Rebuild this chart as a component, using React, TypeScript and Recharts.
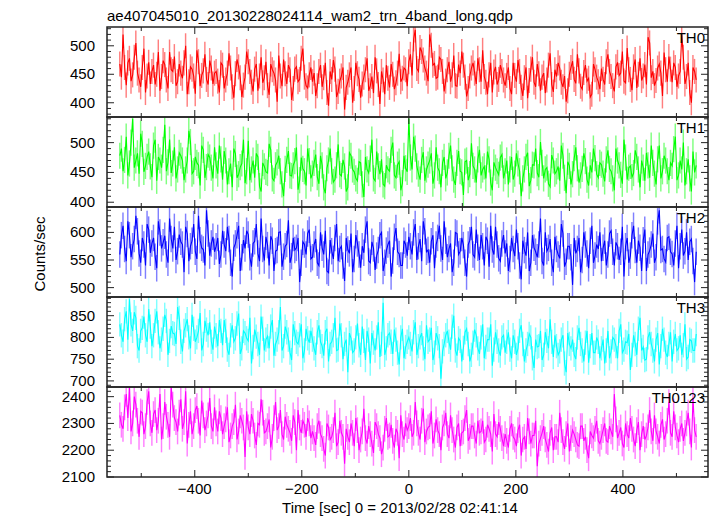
import { ComposedChart, Line, Bar, XAxis, YAxis } from 'recharts';

const FONT = '"Liberation Sans", Arial, Helvetica, sans-serif';

// light curve bins, 3 s apart, from -540 s to +537 s
const times = Array.from({ length: 360 }, (_, i) => -540 + 3 * i);

const th0 = [
  468, 445, 520, 462, 431, 470, 478, 438, 449, 480, 505, 452, 440, 428, 462, 495, 418, 447, 471, 433, 455, 466, 432, 450, 489, 421, 446, 474, 467, 440, 425, 489, 458, 455, 481, 430, 437, 468, 452, 443, 470, 500, 415, 437, 463, 459, 447, 416, 492, 472, 429, 448, 456, 485, 441, 432, 474, 461, 433, 452,
  455, 438, 418, 470, 466, 425, 440, 452, 487, 461, 428, 409, 451, 476, 463, 444, 410, 431, 445, 490, 472, 455, 436, 420, 459, 468, 421, 447, 480, 435, 444, 472, 430, 414, 468, 458, 452, 440, 402, 483, 447, 429, 476, 451, 433, 466, 458, 405, 425, 459, 463, 437, 441, 478, 495, 445, 430, 426, 449, 462,
  437, 452, 412, 430, 455, 466, 428, 444, 470, 418, 395, 455, 441, 475, 459, 410, 420, 438, 447, 462, 388, 427, 436, 449, 462, 400, 425, 470, 451, 441, 409, 433, 445, 458, 478, 421, 430, 446, 417, 480, 456, 432, 398, 455, 440, 415, 466, 443, 427, 468, 450, 424, 435, 452, 486, 437, 443, 461, 458, 429,
  472, 485, 448, 512, 528, 460, 455, 497, 490, 475, 461, 452, 438, 520, 501, 466, 469, 443, 445, 480, 476, 455, 420, 438, 458, 472, 437, 449, 483, 430, 429, 467, 452, 490, 466, 445, 411, 425, 447, 461, 470, 452, 433, 478, 458, 437, 492, 446, 436, 415, 449, 470, 418, 454, 463, 432, 441, 466, 455, 440,
  430, 448, 462, 425, 415, 470, 448, 437, 475, 455, 427, 412, 444, 462, 408, 439, 459, 480, 436, 428, 468, 451, 421, 445, 452, 417, 440, 466, 487, 432, 419, 458, 446, 470, 461, 436, 428, 447, 402, 421, 450, 462, 473, 441, 434, 485, 456, 429, 424, 453, 466, 438, 443, 410, 415, 468, 458, 445, 437, 424,
  460, 441, 432, 472, 485, 455, 446, 430, 420, 463, 471, 448, 452, 490, 438, 435, 496, 458, 441, 422, 463, 476, 426, 450, 478, 439, 447, 467, 432, 515, 505, 444, 455, 430, 439, 461, 468, 452, 412, 488, 458, 437, 481, 459, 436, 470, 462, 428, 447, 455, 520, 480, 433, 446, 470, 418, 400, 462, 455, 440,
];

const th1 = [
  478, 490, 452, 471, 510, 445, 465, 500, 540, 458, 470, 482, 448, 515, 498, 451, 461, 476, 485, 460, 442, 495, 505, 436, 476, 470, 458, 488, 530, 452, 467, 505, 449, 465, 492, 440, 455, 483, 478, 470, 437, 455, 470, 520, 501, 448, 452, 476, 466, 462, 428, 495, 488, 441, 459, 480, 475, 458, 440, 492,
  462, 448, 495, 472, 438, 486, 470, 430, 452, 465, 425, 490, 481, 441, 447, 459, 465, 505, 432, 452, 503, 437, 455, 470, 441, 482, 476, 427, 418, 466, 460, 451, 449, 498, 488, 440, 436, 462, 467, 478, 452, 430, 410, 456, 471, 486, 445, 444, 462, 469, 492, 421, 437, 475, 456, 452, 428, 490, 469, 440,
  448, 466, 480, 442, 431, 478, 462, 425, 415, 457, 470, 490, 452, 434, 438, 462, 497, 447, 444, 471, 460, 418, 425, 483, 478, 455, 451, 440, 436, 468, 466, 430, 409, 476, 455, 449, 473, 505, 440, 436, 485, 460, 447, 472, 430, 427, 462, 455, 452, 488, 500, 445, 441, 463, 468, 420, 432, 478, 457, 451,
  540, 475, 455, 510, 490, 460, 448, 438, 471, 484, 436, 455, 463, 470, 482, 431, 445, 492, 458, 452, 425, 466, 476, 440, 450, 478, 495, 457, 438, 429, 466, 486, 452, 450, 412, 468, 470, 437, 447, 499, 461, 455, 433, 472, 488, 445, 455, 460, 440, 485, 472, 433, 420, 467, 458, 452, 446, 475, 480, 440,
  452, 470, 430, 455, 476, 438, 448, 482, 465, 452, 410, 440, 455, 476, 483, 427, 437, 463, 462, 490, 449, 442, 501, 466, 440, 455, 458, 431, 426, 479, 470, 448, 452, 460, 436, 495, 478, 441, 415, 468, 461, 430, 447, 474, 492, 457, 433, 445, 456, 482, 469, 438, 428, 462, 450, 490, 474, 447, 441, 466,
  463, 448, 435, 472, 487, 456, 452, 440, 420, 490, 470, 462, 446, 431, 505, 475, 438, 458, 461, 442, 449, 487, 476, 455, 425, 470, 458, 436, 483, 462, 441, 495, 466, 448, 430, 472, 495, 440, 452, 478, 470, 452, 437, 466, 461, 489, 510, 437, 445, 470, 455, 500, 428, 452, 472, 440, 418, 485, 450, 462,
];

const th2 = [
  560, 595, 612, 570, 548, 620, 595, 555, 575, 588, 630, 602, 562, 545, 590, 578, 540, 615, 605, 563, 580, 590, 556, 535, 620, 600, 571, 582, 594, 560, 545, 625, 588, 571, 610, 550, 566, 596, 583, 578, 528, 610, 597, 548, 575, 585, 615, 565, 552, 630, 586, 572, 569, 540, 640, 598, 558, 580, 592, 565,
  575, 590, 543, 560, 603, 578, 566, 610, 588, 545, 520, 572, 580, 595, 612, 530, 555, 586, 571, 603, 596, 555, 538, 580, 584, 615, 562, 548, 625, 570, 549, 592, 577, 540, 593, 585, 530, 566, 568, 600, 601, 538, 556, 575, 579, 622, 545, 557, 590, 568, 572, 590, 510, 545, 583, 578, 560, 598, 605, 552,
  555, 578, 588, 545, 540, 600, 572, 560, 603, 530, 527, 586, 566, 552, 590, 615, 548, 570, 575, 540, 512, 590, 569, 562, 598, 528, 552, 595, 580, 560, 536, 575, 563, 605, 620, 548, 545, 583, 571, 532, 558, 568, 595, 600, 530, 545, 567, 578, 585, 520, 549, 592, 608, 565, 561, 540, 540, 585, 578, 558,
  592, 575, 560, 600, 615, 550, 575, 588, 548, 620, 602, 565, 568, 545, 584, 595, 535, 578, 590, 612, 571, 550, 620, 585, 555, 570, 580, 528, 545, 600, 598, 560, 566, 590, 577, 545, 520, 578, 586, 610, 560, 555, 605, 572, 550, 595, 575, 540, 592, 585, 538, 612, 569, 560, 610, 578, 553, 548, 580, 595,
  562, 580, 530, 552, 590, 570, 557, 605, 575, 540, 515, 585, 568, 558, 600, 530, 545, 595, 572, 565, 555, 578, 625, 548, 540, 600, 566, 572, 588, 545, 528, 592, 570, 560, 553, 615, 598, 538, 547, 575, 575, 555, 505, 590, 562, 570, 590, 528, 550, 600, 578, 562, 535, 585, 612, 545, 558, 578, 570, 600,
  548, 572, 585, 540, 560, 598, 603, 565, 540, 582, 575, 550, 565, 610, 520, 575, 590, 545, 558, 595, 612, 568, 545, 585, 572, 530, 586, 605, 530, 560, 567, 578, 598, 545, 555, 620, 640, 568, 570, 552, 546, 590, 592, 565, 561, 540, 580, 612, 535, 575, 605, 558, 566, 600, 550, 583, 588, 548, 510, 565,
];

const th3 = [
  830, 805, 790, 842, 860, 795, 888, 830, 815, 858, 845, 780, 770, 815, 822, 848, 805, 790, 865, 825, 780, 805, 838, 860, 812, 775, 795, 820, 852, 838, 760, 792, 826, 810, 808, 785, 870, 845, 790, 768, 815, 828, 842, 800, 775, 852, 820, 790, 800, 815, 856, 770, 785, 838, 818, 805, 835, 790, 772, 825,
  805, 780, 840, 815, 782, 840, 815, 772, 760, 805, 828, 790, 798, 832, 855, 762, 775, 815, 810, 798, 792, 845, 740, 778, 818, 802, 785, 760, 848, 820, 770, 795, 803, 775, 825, 840, 758, 785, 795, 812, 870, 770, 780, 825, 812, 795, 765, 748, 830, 810, 790, 785, 805, 830, 752, 770, 820, 798, 788, 815,
  795, 775, 760, 812, 828, 790, 780, 758, 812, 820, 745, 785, 790, 805, 845, 770, 772, 832, 805, 750, 785, 795, 720, 810, 798, 765, 770, 800, 832, 782, 760, 825, 792, 748, 815, 795, 740, 810, 788, 770, 800, 835, 755, 785, 880, 760, 775, 805, 810, 790, 762, 818, 795, 765, 738, 800, 820, 752, 778, 790,
  800, 785, 768, 812, 835, 760, 780, 800, 810, 775, 750, 828, 790, 795, 822, 748, 765, 810, 798, 780, 705, 768, 785, 805, 815, 790, 772, 825, 850, 770, 758, 798, 792, 745, 776, 812, 820, 785, 745, 760, 788, 818, 805, 775, 762, 800, 830, 752, 778, 795, 795, 830, 735, 772, 812, 790, 770, 758, 800, 805,
  765, 790, 812, 772, 752, 805, 790, 760, 775, 815, 828, 785, 745, 770, 785, 808, 800, 752, 730, 795, 778, 780, 815, 748, 760, 812, 792, 775, 842, 790, 755, 805, 780, 760, 768, 795, 805, 740, 720, 810, 785, 775, 795, 760, 750, 800, 822, 785, 770, 745, 788, 815, 742, 780, 810, 765, 765, 800, 790, 752,
  775, 795, 740, 770, 815, 752, 768, 800, 795, 780, 752, 815, 830, 765, 772, 790, 788, 808, 725, 760, 805, 785, 760, 820, 845, 770, 778, 748, 750, 800, 812, 785, 770, 745, 795, 810, 738, 780, 820, 795, 765, 755, 785, 812, 745, 790, 808, 770, 775, 805, 760, 782, 830, 750, 755, 795, 792, 770, 770, 808,
];

const th0123 = [
  2330, 2295, 2280, 2360, 2410, 2320, 2436, 2270, 2300, 2400, 2370, 2310, 2250, 2345, 2340, 2260, 2290, 2380, 2420, 2300, 2265, 2335, 2350, 2275, 2310, 2410, 2240, 2290, 2380, 2325, 2295, 2250, 2436, 2370, 2320, 2305, 2270, 2340, 2390, 2280, 2305, 2420, 2225, 2295, 2345, 2260, 2290, 2350, 2365, 2310, 2255, 2385, 2330, 2275, 2300, 2330, 2395, 2290, 2270, 2360,
  2300, 2270, 2345, 2320, 2260, 2290, 2315, 2360, 2230, 2255, 2290, 2305, 2370, 2240, 2270, 2330, 2310, 2285, 2175, 2345, 2285, 2260, 2335, 2310, 2255, 2220, 2300, 2295, 2390, 2340, 2265, 2270, 2290, 2315, 2210, 2250, 2320, 2380, 2275, 2290, 2350, 2260, 2240, 2325, 2295, 2280, 2265, 2235, 2330, 2305, 2200, 2350, 2285, 2265, 2310, 2295, 2250, 2320, 2300, 2245,
  2270, 2245, 2220, 2290, 2310, 2260, 2245, 2205, 2180, 2300, 2285, 2240, 2250, 2275, 2340, 2215, 2230, 2310, 2265, 2250, 2150, 2280, 2250, 2230, 2300, 2265, 2215, 2320, 2275, 2200, 2240, 2270, 2355, 2245, 2225, 2290, 2260, 2225, 2190, 2305, 2290, 2260, 2245, 2185, 2210, 2280, 2320, 2250, 2255, 2295, 2235, 2210, 2280, 2265, 2170, 2330, 2260, 2240, 2300, 2275,
  2290, 2320, 2250, 2265, 2380, 2300, 2265, 2240, 2310, 2355, 2230, 2270, 2285, 2290, 2345, 2225, 2255, 2315, 2275, 2260, 2200, 2285, 2300, 2340, 2260, 2245, 2330, 2275, 2240, 2210, 2285, 2300, 2215, 2265, 2270, 2320, 2350, 2235, 2250, 2290, 2290, 2255, 2225, 2310, 2265, 2270, 2310, 2230, 2240, 2295, 2280, 2260, 2195, 2335, 2260, 2250, 2305, 2280, 2245, 2215,
  2260, 2235, 2210, 2280, 2300, 2250, 2240, 2215, 2275, 2295, 2180, 2240, 2250, 2205, 2320, 2270, 2225, 2255, 2255, 2310, 2140, 2225, 2245, 2265, 2290, 2240, 2220, 2195, 2265, 2285, 2200, 2250, 2250, 2230, 2340, 2275, 2230, 2205, 2260, 2300, 2195, 2245, 2275, 2260, 2240, 2220, 2215, 2290, 2290, 2235, 2250, 2200, 2170, 2270, 2255, 2245, 2280, 2310, 2235, 2225,
  2250, 2275, 2300, 2235, 2230, 2290, 2270, 2250, 2410, 2315, 2245, 2265, 2285, 2225, 2210, 2300, 2260, 2245, 2320, 2280, 2240, 2215, 2275, 2305, 2200, 2260, 2290, 2240, 2255, 2285, 2350, 2270, 2235, 2330, 2270, 2250, 2225, 2295, 2315, 2240, 2260, 2310, 2380, 2265, 2250, 2345, 2285, 2255, 2230, 2280, 2300, 2235, 2265, 2300, 2340, 2270, 2210, 2395, 2275, 2250,
];

const series = [th0, th1, th2, th3, th0123];
const names = ['TH0', 'TH1', 'TH2', 'TH3', 'TH0123'];
const colors = ['#ff0000', '#00ff00', '#0000ff', '#00ffff', '#ff00ff'];
const errors = [22, 22, 24, 28, 48];
const yDomains = [[375, 533], [392, 543], [483, 646], [686, 893], [2100, 2436]];
const yMajor = [[400, 450, 500], [400, 450, 500], [500, 550, 600], [700, 750, 800, 850], [2100, 2200, 2300, 2400]];
const yMinorStep = [10, 10, 10, 10, 20];

const xDomain = [-564, 559];
const xMajor = [-400, -200, 0, 200, 400];
const xTicks = [-500, -400, -300, -200, -100, 0, 100, 200, 300, 400, 500];

const PANEL_TOP = 27;
const PANEL_H = 90;
const PAD = 12;
const LEFT = 107;
const RIGHT = 708;
const FRAME = '#222';

function stepTicks(lo: number, hi: number, step: number) {
  const out: number[] = [];
  for (let v = Math.ceil(lo / step) * step; v <= hi; v += step) out.push(v);
  return out;
}

function Panel({ i }: { i: number }) {
  const last = i === series.length - 1;
  const data = times.map((t, k) => ({
    t,
    v: series[i][k],
    band: [series[i][k] - errors[i], series[i][k] + errors[i]],
  }));
  const [lo, hi] = yDomains[i];
  const yTicks = stepTicks(lo, hi, yMinorStep[i]);
  const majors = yMajor[i];
  const extra = last ? 40 : 0;
  const top = PAD;
  const bottom = PAD + PANEL_H;

  // qdp style: ticks point inwards from the frame
  const leftTick = (p: any) => {
    const major = majors.includes(p.payload.value);
    return (
      <g>
        <line x1={LEFT} y1={p.y} x2={LEFT + (major ? 7 : 4)} y2={p.y} stroke={FRAME} />
        {major && (
          <text x={LEFT - 12} y={p.y + 5} textAnchor="end" fontSize={15} fontFamily={FONT} fill="#000">
            {p.payload.value}
          </text>
        )}
      </g>
    );
  };
  const rightTick = (p: any) => {
    const major = majors.includes(p.payload.value);
    return <line x1={RIGHT} y1={p.y} x2={RIGHT - (major ? 7 : 4)} y2={p.y} stroke={FRAME} />;
  };
  const bottomTick = (p: any) => {
    const v = p.payload.value;
    const major = xMajor.includes(v);
    return (
      <g>
        <line x1={p.x} y1={bottom} x2={p.x} y2={bottom - (major ? 7 : 4)} stroke={FRAME} />
        {last && major && (
          <text x={p.x} y={bottom + 17} textAnchor="middle" fontSize={15} fontFamily={FONT} fill="#000">
            {v < 0 ? '\u2212' + Math.abs(v) : v}
          </text>
        )}
      </g>
    );
  };
  const topTick = (p: any) => {
    const major = xMajor.includes(p.payload.value);
    return <line x1={p.x} y1={top} x2={p.x} y2={top + (major ? 7 : 4)} stroke={FRAME} />;
  };

  return (
    <ComposedChart
      width={717}
      height={PANEL_H + 2 * PAD + extra}
      data={data}
      margin={{ top: PAD - 1, right: 717 - RIGHT - 1, bottom: PAD - 1 + extra, left: LEFT - 1 }}
    >
      <XAxis
        dataKey="t"
        type="number"
        domain={xDomain}
        allowDataOverflow
        ticks={xTicks}
        interval={0}
        height={1}
        tickLine={false}
        axisLine={false}
        tick={bottomTick}
      />
      <XAxis
        xAxisId="top"
        orientation="top"
        dataKey="t"
        type="number"
        domain={xDomain}
        allowDataOverflow
        ticks={xTicks}
        interval={0}
        height={1}
        tickLine={false}
        axisLine={false}
        tick={topTick}
      />
      <YAxis
        type="number"
        domain={[lo, hi]}
        allowDataOverflow
        ticks={yTicks}
        interval={0}
        width={1}
        tickLine={false}
        axisLine={false}
        tick={leftTick}
      />
      <YAxis
        yAxisId="right"
        orientation="right"
        type="number"
        domain={[lo, hi]}
        allowDataOverflow
        ticks={yTicks}
        interval={0}
        width={1}
        tickLine={false}
        axisLine={false}
        tick={rightTick}
      />
      {/* error bars as thin floating bars */}
      <Bar dataKey="band" barSize={2} fill={colors[i]} fillOpacity={0.5} isAnimationActive={false} />
      <Line
        dataKey="v"
        type="linear"
        stroke={colors[i]}
        strokeWidth={1.1}
        dot={false}
        activeDot={false}
        isAnimationActive={false}
      />
    </ComposedChart>
  );
}

export default function App() {
  return (
    <div style={{ position: 'absolute', left: 0, top: 0, width: 717, height: 516, background: '#fff' }}>
      {series.map((_, i) => (
        <div key={i} style={{ position: 'absolute', left: 0, top: PANEL_TOP + PANEL_H * i - PAD }}>
          <Panel i={i} />
        </div>
      ))}
      <svg width={717} height={516} style={{ position: 'absolute', left: 0, top: 0, pointerEvents: 'none' }}>
        {series.map((_, i) => (
          <rect
            key={i}
            x={LEFT}
            y={PANEL_TOP + PANEL_H * i}
            width={RIGHT - LEFT}
            height={PANEL_H}
            fill="none"
            stroke={FRAME}
            strokeWidth={1.5}
          />
        ))}
        <text x={LEFT} y={21} fontSize={15} fontFamily={FONT} fill="#000">
          ae407045010_20130228024114_wam2_trn_4band_long.qdp
        </text>
        <text transform="translate(45,254) rotate(-90)" textAnchor="middle" fontSize={15} fontFamily={FONT} fill="#000">
          Counts/sec
        </text>
        <text x={400} y={513} textAnchor="middle" fontSize={15} fontFamily={FONT} fill="#000">
          Time [sec] 0 = 2013/02/28 02:41:14
        </text>
        {names.map((n, i) => (
          <text key={n} x={705} y={PANEL_TOP + PANEL_H * i + 16} textAnchor="end" fontSize={15} fontFamily={FONT} fill="#000">
            {n}
          </text>
        ))}
      </svg>
    </div>
  );
}
